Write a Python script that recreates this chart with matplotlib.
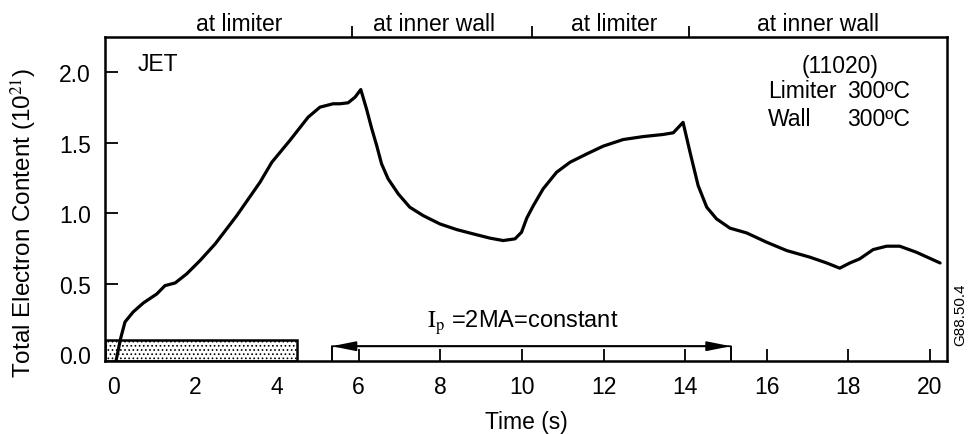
import matplotlib
matplotlib.use("Agg")
import matplotlib.pyplot as plt
from matplotlib.patches import Rectangle

plt.rcParams['font.family'] = ['Liberation Sans', 'DejaVu Sans']
plt.rcParams['mathtext.fontset'] = 'stix'
plt.rcParams['hatch.linewidth'] = 0.7

# ---- data ----
time_s = [0.05, 0.16, 0.27, 0.47, 0.72, 1.05, 1.25, 1.50, 1.78, 2.11, 2.48, 3.01,
          3.58, 3.87, 4.31, 4.76, 5.05, 5.37, 5.54, 5.74, 5.91, 6.05, 6.19, 6.32,
          6.44, 6.56, 6.72, 6.97, 7.25, 7.58, 7.99, 8.40, 8.81, 9.22, 9.54, 9.83,
          9.99, 10.12, 10.28, 10.52, 10.85, 11.18, 11.59, 11.99, 12.48, 12.97,
          13.46, 13.71, 13.95, 14.12, 14.32, 14.53, 14.77, 15.10, 15.51, 16.00,
          16.49, 17.06, 17.47, 17.79, 18.04, 18.28, 18.61, 18.94, 19.26, 19.67, 20.25]
electron_content = [-0.05, 0.107, 0.227, 0.298, 0.362, 0.426, 0.485, 0.504, 0.568,
                    0.663, 0.781, 0.982, 1.219, 1.361, 1.515, 1.681, 1.752, 1.776,
                    1.776, 1.783, 1.823, 1.877, 1.740, 1.598, 1.479, 1.349, 1.243,
                    1.136, 1.042, 0.982, 0.923, 0.883, 0.852, 0.822, 0.805, 0.817,
                    0.864, 0.965, 1.053, 1.172, 1.290, 1.361, 1.420, 1.475, 1.522,
                    1.543, 1.558, 1.570, 1.644, 1.433, 1.195, 1.042, 0.959, 0.893,
                    0.859, 0.793, 0.734, 0.687, 0.646, 0.609, 0.646, 0.675, 0.741,
                    0.765, 0.765, 0.722, 0.646]

x_ticks = [0, 2, 4, 6, 8, 10, 12, 14, 16, 18, 20]
y_ticks = [0.0, 0.5, 1.0, 1.5, 2.0]
y_tick_labels = ["0.0", "0.5", "1.0", "1.5", "2.0"]

region_boundaries = [5.83, 10.25, 14.09]
region_labels = ["at limiter", "at inner wall", "at limiter", "at inner wall"]
region_label_x = [3.06, 7.84, 12.27, 17.27]

gas_bar_end = 4.48       # shaded bar (time)
gas_bar_top = 0.10
ip_start, ip_end = 5.34, 15.12   # Ip = 2MA flat-top
ip_arrow_y = 0.055

# ---- figure ----
fig = plt.figure(figsize=(9.7, 4.35), dpi=100)
ax = fig.add_axes([105/970, (435-362)/435, (947-105)/970, (362-38)/435])
ax.set_xlim(-0.22, 20.42)
ax.set_ylim(-0.05, 2.25)

ax.plot(time_s, electron_content, color='black', lw=2.3, solid_capstyle='round',
        solid_joinstyle='round', zorder=3)

# shaded bar
ybot = ax.get_ylim()[0]
xleft = ax.get_xlim()[0]
rect = Rectangle((xleft, ybot), gas_bar_end - xleft, gas_bar_top - ybot,
                 facecolor='white', edgecolor='black', hatch='....', lw=1.8, zorder=2)
ax.add_patch(rect)

# Ip arrow
for a, b in [(ip_start, ip_end), (ip_end, ip_start)]:
    ax.annotate('', xy=(a, ip_arrow_y), xytext=(b, ip_arrow_y),
                arrowprops=dict(arrowstyle='-|>,head_length=0.8,head_width=0.16',
                                color='black', lw=1.3,
                                mutation_scale=18, shrinkA=0, shrinkB=0))
ax.vlines([ip_start, ip_end], ybot, ip_arrow_y, color='black', lw=1.4)
ax.text(10.02, 0.227, r'$\mathrm{I_p}$ =2MA=constant',
        ha='center', va='center', fontsize=17)

# ticks
ax.set_xticks(x_ticks)
ax.set_yticks(y_ticks)
ax.set_yticklabels(y_tick_labels)
ax.tick_params(direction='in', length=9, width=1.3, labelsize=16.5)
ax.tick_params(axis='x', pad=10)
ax.tick_params(axis='y', pad=10)
for s in ax.spines.values():
    s.set_linewidth(1.8)

# top region boundaries
sec = ax.secondary_xaxis('top')
sec.set_xticks(region_boundaries)
sec.set_xticklabels([])
sec.tick_params(direction='out', length=8, width=1.3)
sec.spines['top'].set_visible(False)
for xl, lab in zip(region_label_x, region_labels):
    ax.text(xl, 1.0 + 7/324, lab, transform=ax.get_xaxis_transform(),
            ha='center', va='baseline', fontsize=16.5)

ax.set_xlabel('Time (s)', fontsize=16.5, labelpad=9)
ax.set_ylabel(r'Total Electron Content (10$^{21}$)', fontsize=17.5)
ax.yaxis.set_label_coords(-0.078, 0.429)

# annotations
ax.text(0.59, 2.06, 'JET', fontsize=16.5, ha='left', va='center')
ax.text(17.8, 2.045, '(11020)', fontsize=16.5, ha='center', va='center')
ax.text(16.03, 1.868, 'Limiter', fontsize=16.5, ha='left', va='center')
ax.text(19.51, 1.868, '300ºC', fontsize=16.5, ha='right', va='center')
ax.text(16.03, 1.67, 'Wall', fontsize=16.5, ha='left', va='center')
ax.text(19.51, 1.67, '300ºC', fontsize=16.5, ha='right', va='center')
fig.text(960/970, 1 - 315/435, 'G88.50.4', rotation=90, fontsize=11,
         ha='center', va='center')

fig.savefig('out.png', dpi=100)
